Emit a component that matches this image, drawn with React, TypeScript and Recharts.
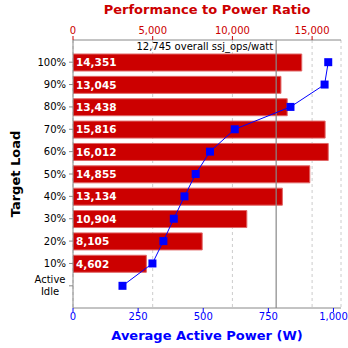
import React from 'react';
import { ComposedChart, Bar, Line, XAxis, YAxis, CartesianGrid, ReferenceLine, LabelList, Label } from 'recharts';

const loads = ['100%', '90%', '80%', '70%', '60%', '50%', '40%', '30%', '20%', '10%', 'Active Idle'];
const ratios: (number | null)[] = [14351, 13045, 13438, 15816, 16012, 14855, 13134, 10904, 8105, 4602, null];
const powers = [980, 966, 835, 621, 526, 471, 428, 387, 347, 305, 190];
const overall = 12745;
const ratioTicks = [0, 5000, 10000, 15000];
const powerTicks = [0, 250, 500, 750, 1000];

const data = loads.map((load, i) => ({ load, ratio: ratios[i], power: powers[i] }));

const FONT = '"DejaVu Sans", sans-serif';
const RED = '#CC0000';
const BLUE = '#0000FF';
const GRAY = '#888888';

const fmt = (v: any) => (v == null ? '' : Number(v).toLocaleString('en-US'));

const YTick = (props: any) => {
  const { x, y, payload } = props;
  const v = String(payload.value);
  if (v === 'Active Idle') {
    return (
      <text x={x - 16} y={y} textAnchor="middle" fontSize={10} fill="#000" fontFamily={FONT}>
        <tspan x={x - 16} dy={-2.5}>Active</tspan>
        <tspan x={x - 16} dy={12}>Idle</tspan>
      </text>
    );
  }
  return (
    <text x={x} y={y} dy="0.355em" textAnchor="end" fontSize={10} fill="#000" fontFamily={FONT}>
      {v}
    </text>
  );
};

const SquareDot = (props: any) => {
  const { cx, cy } = props;
  if (cx == null || cy == null) return null;
  return <rect x={cx - 4} y={cy - 4} width={8} height={8} fill={BLUE} />;
};

export default function App() {
  return (
    <div style={{ position: 'absolute', left: 0, top: 0, fontFamily: FONT }}>
      <ComposedChart
        width={348}
        height={348}
        data={data}
        layout="vertical"
        margin={{ top: 0, right: 7, bottom: 0, left: 0 }}
        style={{ fontFamily: FONT }}
      >
        <CartesianGrid xAxisId="ratio" horizontal={false} stroke="#cccccc" strokeDasharray="3 3" />
        <XAxis
          xAxisId="ratio"
          type="number"
          orientation="top"
          domain={[0, (m: number) => m * 1.05]}
          ticks={ratioTicks}
          tickFormatter={fmt}
          height={40}
          tick={{ fill: RED, fontSize: 10 }}
          tickSize={4}
          tickMargin={2}
          tickLine={{ stroke: RED }}
          axisLine={{ stroke: GRAY }}
          allowDataOverflow
        >
          <Label value="Performance to Power Ratio" position="insideTop" offset={5} fill={RED} fontSize={13} fontWeight="bold" />
        </XAxis>
        <XAxis
          xAxisId="power"
          type="number"
          orientation="bottom"
          domain={[0, (m: number) => m * 1.05]}
          ticks={powerTicks}
          tickFormatter={fmt}
          height={40}
          tick={{ fill: BLUE, fontSize: 10 }}
          tickSize={4}
          tickMargin={1}
          tickLine={{ stroke: BLUE }}
          axisLine={{ stroke: GRAY }}
          allowDataOverflow
        >
          <Label value="Average Active Power (W)" position="insideBottom" offset={8} fill={BLUE} fontSize={13} fontWeight="bold" />
        </XAxis>
        <YAxis
          yAxisId="load"
          type="category"
          dataKey="load"
          width={73}
          tick={<YTick />}
          tickSize={4}
          tickMargin={3}
          tickLine={{ stroke: GRAY }}
          axisLine={{ stroke: GRAY }}
          padding={{ top: 11, bottom: 11 }}
          interval={0}
        >
          <Label value="Target Load" angle={-90} position="insideLeft" offset={15} fill="#000" fontSize={13} fontWeight="bold" style={{ textAnchor: 'middle' }} />
        </YAxis>
        <YAxis
          yAxisId="right"
          type="category"
          dataKey="load"
          orientation="right"
          width={0}
          tick={false}
          tickLine={false}
          axisLine={{ stroke: GRAY }}
        />
        <Bar
          xAxisId="ratio"
          yAxisId="load"
          dataKey="ratio"
          fill={RED}
          stroke="#E06666"
          strokeWidth={1}
          barSize={17}
          isAnimationActive={false}
        >
          <LabelList dataKey="ratio" position="insideLeft" offset={3} formatter={fmt} fill="#fff" fontSize={10.5} fontWeight="bold" />
        </Bar>
        <ReferenceLine
          xAxisId="ratio"
          yAxisId="load"
          x={overall}
          stroke={GRAY}
          strokeWidth={1.2}
          label={{ value: `${fmt(overall)} overall ssj_ops/watt`, position: 'insideTopRight', offset: 3, fill: '#000', fontSize: 10 }}
        />
        <Line
          xAxisId="power"
          yAxisId="load"
          dataKey="power"
          stroke={BLUE}
          strokeWidth={1}
          dot={<SquareDot />}
          activeDot={false}
          isAnimationActive={false}
        />
      </ComposedChart>
    </div>
  );
}
